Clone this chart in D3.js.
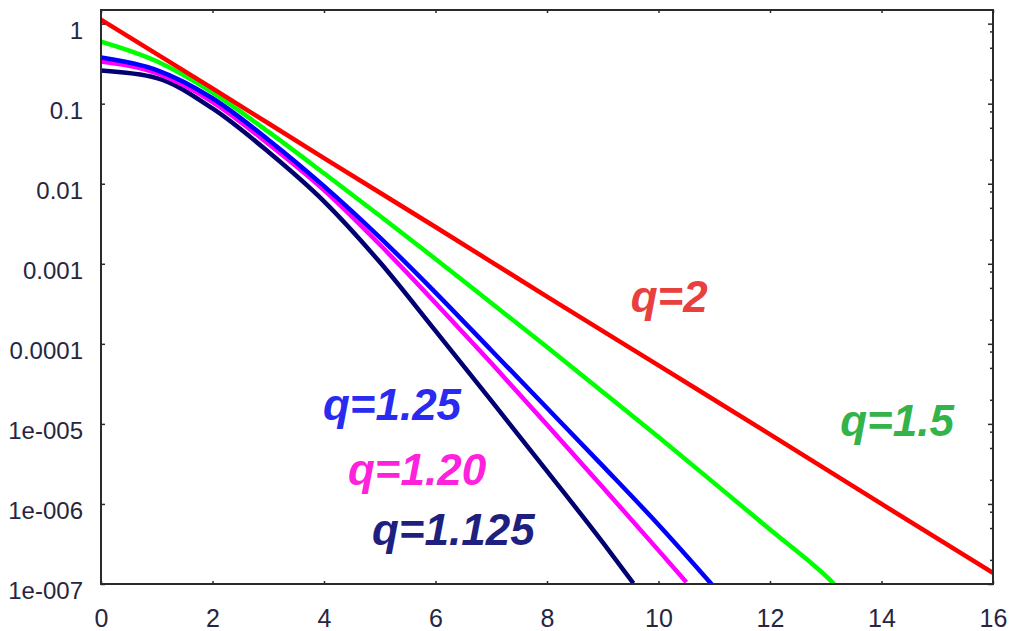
<!DOCTYPE html>
<html>
<head>
<meta charset="utf-8">
<script src="https://cdn.jsdelivr.net/npm/d3@7"></script>
<style>
  body { margin: 0; background: #fff; }
  text { font-family: "Liberation Sans", Arial, sans-serif; }
</style>
</head>
<body>
<svg id="chart" width="1016" height="631"></svg>
<script>
// axis ticks
const xTicks = [0, 2, 4, 6, 8, 10, 12, 14, 16];
const yTicks = [1, 0.1, 0.01, 0.001, 0.0001, 1e-5, 1e-6, 1e-7];
const yTickLabels = ["1", "0.1", "0.01", "0.001", "0.0001", "1e-005", "1e-006", "1e-007"];
const yMinor = [0.2, 0.5, 0.8];

// curves (x, y)
const x_q2 = [0, 2, 4, 6, 8, 10, 12, 14, 16];
const y_q2 = [1.12, 0.155, 0.0209, 2.88e-3, 3.89e-4, 5.37e-5, 7.41e-6, 1.0e-6, 1.38e-7];

const x_q15 = [0, 1, 2, 3, 4, 5, 6, 7, 8, 9, 10, 11, 12, 13, 13.15];
const y_q15 = [0.597, 0.339, 0.138, 0.0447, 0.0135, 3.98e-3, 1.15e-3, 3.24e-4, 9.12e-5, 2.51e-5, 6.84e-6, 1.82e-6, 4.79e-7, 1.26e-7, 1.0e-7];

const x_q125 = [0, 1, 2, 3, 4, 5, 6, 7, 8, 9, 10, 11];
const y_q125 = [0.377, 0.263, 0.117, 0.0355, 9.33e-3, 2.14e-3, 4.37e-4, 8.32e-5, 1.58e-5, 2.99e-6, 5.50e-7, 9.12e-8];

const x_q120 = [0, 1, 2, 3, 4, 5, 6, 7, 8, 9, 10, 10.5];
const y_q120 = [0.336, 0.240, 0.105, 0.0316, 8.32e-3, 1.74e-3, 3.24e-4, 5.75e-5, 9.77e-6, 1.62e-6, 2.63e-7, 1.05e-7];

const x_q1125 = [0, 1, 2, 3, 4, 5, 6, 7, 8, 9, 9.55];
const y_q1125 = [0.259, 0.209, 0.0871, 0.0251, 6.03e-3, 1.05e-3, 1.45e-4, 1.95e-5, 2.57e-6, 3.31e-7, 1.02e-7];

const seriesNames = ["q=1.125", "q=1.20", "q=1.25", "q=1.5", "q=2"];
const lineColors = ["#000070", "#ff00ff", "#0000ff", "#00ff00", "#ff0000"];
const labelColors = ["#1f1f80", "#ff22dd", "#2a2af0", "#33b34a", "#e8403c"];
// label anchor in data units (x, y of baseline)
const labelX = [4.86, 4.43, 3.98, 13.26, 9.5];
const labelY = [3.07e-7, 1.72e-6, 1.11e-5, 7.03e-6, 2.48e-4];

const curves = [
  [x_q1125, y_q1125],
  [x_q120, y_q120],
  [x_q125, y_q125],
  [x_q15, y_q15],
  [x_q2, y_q2]
];

const margin = { top: 10, right: 23, bottom: 47, left: 101 },
      width = 1016 - margin.left - margin.right,
      height = 631 - margin.top - margin.bottom;

const svg = d3.select("#chart")
  .append("g")
    .attr("transform", `translate(${margin.left},${margin.top})`);

const x = d3.scaleLinear().domain([0, 16]).range([0, width]);
const y = d3.scaleLog().domain([1e-7, 1.48]).range([height, 0]);

svg.append("clipPath").attr("id", "plot")
  .append("rect").attr("width", width).attr("height", height);

// curves
const line = d3.line()
  .x(d => x(d[0]))
  .y(d => y(d[1]))
  .curve(d3.curveMonotoneX);

curves.forEach((c, i) => {
  const pts = c[0].map((v, j) => [v, c[1][j]]);
  svg.append("path")
    .datum(pts)
    .attr("clip-path", "url(#plot)")
    .attr("fill", "none")
    .attr("stroke", lineColors[i])
    .attr("stroke-width", 4.5)
    .attr("stroke-linejoin", "round")
    .attr("d", line);
});

// frame
svg.append("rect")
  .attr("width", width).attr("height", height)
  .attr("fill", "none").attr("stroke", "#2a2a2a").attr("stroke-width", 2);

// x ticks (bottom pointing up, top pointing down)
svg.append("g")
  .attr("transform", `translate(0,${height})`)
  .call(d3.axisBottom(x).tickValues(xTicks).tickSizeInner(-3).tickSizeOuter(0).tickPadding(25))
  .call(g => g.select(".domain").remove())
  .call(g => g.selectAll("line").attr("stroke", "#2a2a2a").attr("stroke-width", 1.5))
  .call(g => g.selectAll("text")
    .attr("fill", "#262640").style("font-size", "25px")
    .attr("font-family", "Liberation Sans, Arial, sans-serif"));

svg.append("g")
  .call(d3.axisTop(x).tickValues(xTicks).tickSizeInner(-3).tickSizeOuter(0).tickFormat(""))
  .call(g => g.select(".domain").remove())
  .call(g => g.selectAll("line").attr("stroke", "#2a2a2a").attr("stroke-width", 1.5));

// y ticks left
svg.append("g")
  .call(d3.axisLeft(y).tickValues(yTicks).tickSizeInner(-4).tickSizeOuter(0).tickPadding(18)
    .tickFormat((d, i) => yTickLabels[i]))
  .call(g => g.select(".domain").remove())
  .call(g => g.selectAll("line").attr("stroke", "#2a2a2a").attr("stroke-width", 1.5))
  .call(g => g.selectAll("text")
    .attr("fill", "#262640").attr("dy", "0.62em").style("font-size", "24px")
    .attr("font-family", "Liberation Sans, Arial, sans-serif"));

// y ticks right, with minor ticks
const minorVals = [];
yTicks.forEach(t => yMinor.forEach(m => { if (t * m >= 1e-7) minorVals.push(t * m); }));
svg.append("g")
  .attr("transform", `translate(${width},0)`)
  .call(d3.axisRight(y).tickValues(yTicks).tickSizeInner(-5).tickSizeOuter(0).tickFormat(""))
  .call(g => g.select(".domain").remove())
  .call(g => g.selectAll("line").attr("stroke", "#2a2a2a").attr("stroke-width", 1.5));
svg.append("g")
  .attr("transform", `translate(${width},0)`)
  .call(d3.axisRight(y).tickValues(minorVals).tickSizeInner(-3).tickSizeOuter(0).tickFormat(""))
  .call(g => g.select(".domain").remove())
  .call(g => g.selectAll("line").attr("stroke", "#2a2a2a").attr("stroke-width", 1.5));

// series labels
svg.selectAll(".qlabel")
  .data(seriesNames)
  .join("text")
    .attr("class", "qlabel")
    .attr("x", (d, i) => x(labelX[i]))
    .attr("y", (d, i) => y(labelY[i]))
    .attr("fill", (d, i) => labelColors[i])
    .style("font-size", "44px")
    .style("font-weight", "bold")
    .style("font-style", "italic")
    .text(d => d);
</script>
</body>
</html>
